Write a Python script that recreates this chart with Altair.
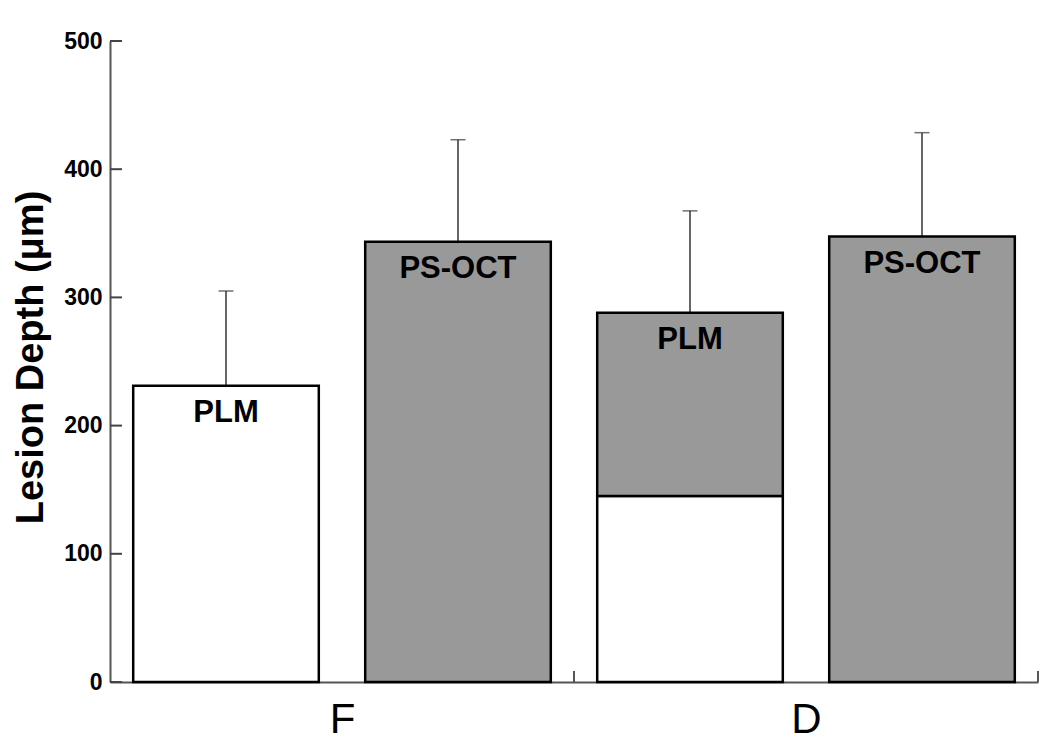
import altair as alt
import pandas as pd

# ---- data ----
groups = ["F", "F", "D", "D"]
methods = ["PLM", "PS-OCT", "PLM", "PS-OCT"]
group_index = [0, 0, 1, 1]
method_index = [0, 1, 0, 1]
depth_mean = [231, 343.5, 288, 347.5]        # bar tops (µm)
depth_upper = [305, 423, 367.5, 428.5]       # error bar tops (µm)
white_part = [231, 0, 145, 0]                # unshaded lower portion (µm)
y_ticks = [0, 100, 200, 300, 400, 500]
x_group_ticks = [1, 2]
group_labels = ["F", "D"]
group_label_pos = [0.5, 1.5]

bars = pd.DataFrame({
    "group": groups, "method": methods,
    "gi": group_index, "mi": method_index,
    "mean": depth_mean, "upper": depth_upper, "white": white_part,
})

segments = []
for g, m, gi, mi, mean, w in zip(groups, methods, group_index, method_index, depth_mean, white_part):
    if w > 0:
        segments.append({"gi": gi, "mi": mi, "lo": 0, "hi": w, "fill": "white"})
    if mean > w:
        segments.append({"gi": gi, "mi": mi, "lo": w, "hi": mean, "fill": "gray"})
seg = pd.DataFrame(segments)

xscale = alt.Scale(domain=[0, 2], nice=False, zero=False)
yscale = alt.Scale(domain=[0, 500], nice=False)

FONT = "Liberation Sans"


def with_pos(ch):
    return ch.transform_calculate(
        x0="datum.gi + 0.05 + 0.5*datum.mi",
        x1="datum.gi + 0.45 + 0.5*datum.mi",
        xc="datum.gi + 0.25 + 0.5*datum.mi",
    )

x_axis = alt.Axis(
    values=group_label_pos,
    labelExpr="datum.value < 1 ? 'F' : 'D'",
    ticks=False, tickSize=0, grid=False,
    domain=True, domainColor="#555555", domainWidth=2,
    labelFont=FONT, labelFontSize=42, labelColor="black",
    labelPadding=17, title=None,
)
y_axis = alt.Axis(
    values=y_ticks, ticks=False, tickSize=0, grid=False,
    domain=True, domainColor="#555555", domainWidth=2,
    labelFont=FONT, labelFontSize=23, labelFontWeight="bold", labelColor="black",
    labelPadding=8,
    title="Lesion Depth (μm)", titleFont=FONT, titleFontSize=38, titleFontWeight="bold",
    titleColor="black", titleAngle=270, titleX=-79, titleY=316,
    titleAlign="center", titleBaseline="middle",
)

rects = with_pos(alt.Chart(seg)).mark_rect(stroke="black", strokeWidth=2.5).encode(
    x=alt.X("x0:Q", scale=xscale, axis=x_axis),
    x2="x1:Q",
    y=alt.Y("lo:Q", scale=yscale, axis=y_axis),
    y2="hi:Q",
    fill=alt.Fill("fill:N", scale=alt.Scale(domain=["white", "gray"], range=["#ffffff", "#999999"]), legend=None),
)

err = with_pos(alt.Chart(bars)).mark_rule(color="#333333", strokeWidth=1.5).encode(
    x=alt.X("xc:Q", scale=xscale),
    y=alt.Y("mean:Q", scale=yscale),
    y2="upper:Q",
)
caps = with_pos(alt.Chart(bars)).mark_tick(color="#333333", orient="horizontal", size=15, thickness=1.5).encode(
    x=alt.X("xc:Q", scale=xscale),
    y=alt.Y("upper:Q", scale=yscale),
)

labels = with_pos(alt.Chart(bars)).mark_text(
    font=FONT, fontSize=31, fontWeight="bold", color="black", baseline="middle", align="center", dy=27
).encode(
    x=alt.X("xc:Q", scale=xscale),
    y=alt.Y("mean:Q", scale=yscale),
    text="method:N",
)

ytick_rules = alt.Chart(pd.DataFrame({"v": y_ticks})).mark_rule(color="#444444", strokeWidth=2).encode(
    x=alt.value(0), x2=alt.value(12),
    y=alt.Y("v:Q", scale=yscale),
)
xtick_rules = alt.Chart(pd.DataFrame({"v": x_group_ticks})).mark_rule(color="#444444", strokeWidth=1.8).encode(
    x=alt.X("v:Q", scale=xscale),
    y=alt.value(641), y2=alt.value(630),
)

chart = alt.layer(err, caps, rects, labels, ytick_rules, xtick_rules).properties(
    width=928, height=641,
    background="white",
    autosize=alt.AutoSizeParams(type="none"),
    padding={"left": 102, "top": 33, "right": 4, "bottom": 70},
).configure_view(stroke="transparent", strokeWidth=0)

chart.save("out.html", embed_options={"renderer": "svg", "actions": False})
